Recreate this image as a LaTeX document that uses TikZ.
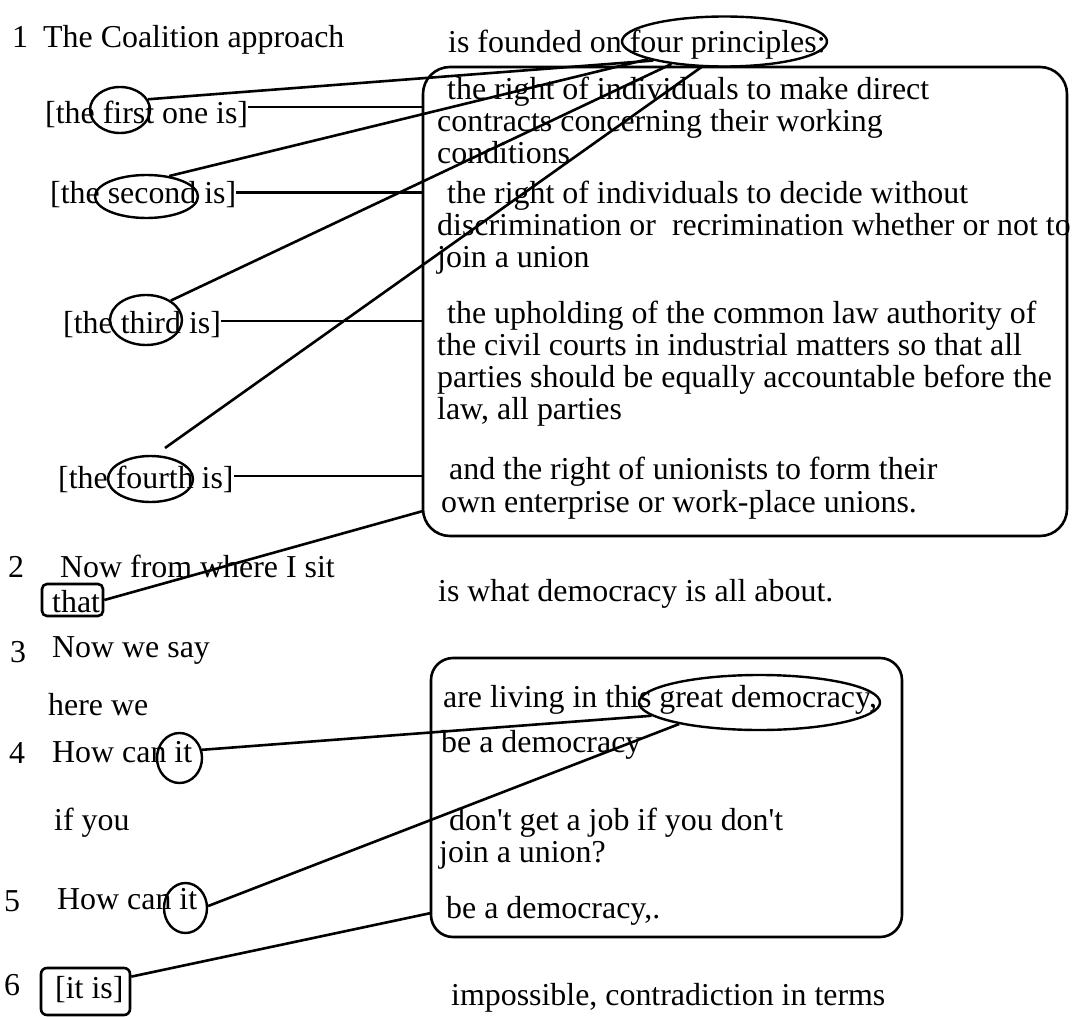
\documentclass[tikz,border=0pt]{standalone}
\usepackage{fontspec}
\setmainfont{Liberation Serif}
\usetikzlibrary{shapes.geometric}
\tikzset{
  txt/.style={anchor=base west, inner sep=0pt, font=\fontsize{31.9}{36}\selectfont},
  ell/.style={draw, ellipse, inner sep=0pt, line width=2.4pt},
  rbox/.style={draw, rectangle, inner sep=0pt, line width=2.6pt},
  conn/.style={line width=2.6pt},
}
\begin{document}
\begin{tikzpicture}[x=1pt,y=-1pt]
\useasboundingbox (0,0) rectangle (1080,1017);

% boxes
\node[rbox, rounded corners=27pt, minimum width=644pt, minimum height=469pt] (bigbox) at (745,301.5) {};
\node[rbox, rounded corners=22pt, minimum width=471pt, minimum height=279pt] (smallbox) at (666.5,797.5) {};
\node[rbox, rounded corners=5pt, minimum width=61pt, minimum height=32pt] (that) at (72.5,600) {};
\node[rbox, rounded corners=6pt, minimum width=89pt, minimum height=47pt] (itis) at (85.5,991.5) {};

% left column
\node[txt] (n1) at (12,47) {1};
\node[txt] (t1) at (43,47) {The Coalition approach};
\node[txt] (b1) at (45,123) {[the first one is]};
\node[txt] (b2) at (50,203) {[the second is]};
\node[txt] (b3) at (63,333) {[the third is]};
\node[txt] (b4) at (58,488) {[the fourth is]};
\node[txt] (n2) at (8,577) {2};
\node[txt] (t2) at (60,577) {Now from where I sit};
\node[txt] (thattxt) at (52,612) {that};
\node[txt] (n3) at (10,662) {3};
\node[txt] (t3) at (52,657) {Now we say};
\node[txt] (t3b) at (48,715) {here we};
\node[txt] (n4) at (9,763) {4};
\node[txt] (t4) at (52,762) {How can it};
\node[txt] (t4b) at (54,830) {if you};
\node[txt] (n5) at (4,911) {5};
\node[txt] (t5) at (57,909) {How can it};
\node[txt] (n6) at (4,995) {6};
\node[txt] (itistxt) at (55,998) {[it is]};

% right column
\node[txt] (t1b) at (448,52) {is founded on four principles:};
\node[txt] (p1a) at (447,99) {the right of individuals to make direct};
\node[txt] (p1b) at (437,131) {contracts concerning their working};
\node[txt] (p1c) at (437,163) {conditions};
\node[txt] (p2a) at (447,203) {the right of individuals to decide without};
\node[txt] (p2b) at (437,235) {discrimination or\ \ recrimination whether or not to};
\node[txt] (p2c) at (437,267) {join a union};
\node[txt] (p3a) at (447,323) {the upholding of the common law authority of};
\node[txt] (p3b) at (437,355) {the civil courts in industrial matters so that all};
\node[txt] (p3c) at (437,387) {parties should be equally accountable before the};
\node[txt] (p3d) at (437,419) {law, all parties};
\node[txt] (p4a) at (449,479) {and the right of unionists to form their};
\node[txt] (p4b) at (441,512) {own enterprise or work-place unions.};
\node[txt] (t2b) at (438,601) {is what democracy is all about.};
\node[txt] (q1) at (443,707) {are living in this great democracy,};
\node[txt] (q2) at (441,752) {be a democracy};
\node[txt] (q3) at (449,830) {don\textquotesingle t get a job if you don\textquotesingle t};
\node[txt] (q4) at (439,862) {join a union?};
\node[txt] (q5) at (446,918) {be a democracy,.};
\node[txt] (t6b) at (451,1005) {impossible, contradiction in terms};

% ellipses around words
\node[ell, minimum width=205pt, minimum height=50pt] (efour) at (724.5,41.5) {};
\node[ell, minimum width=60pt, minimum height=46pt] (e1) at (120,110) {};
\node[ell, minimum width=103pt, minimum height=43pt] (e2) at (146.5,196.5) {};
\node[ell, minimum width=72pt, minimum height=50pt] (e3) at (146,320) {};
\node[ell, minimum width=85pt, minimum height=46pt] (e4) at (150.5,479) {};
\node[ell, minimum width=45pt, minimum height=50pt] (it1) at (179.5,758) {};
\node[ell, minimum width=43pt, minimum height=50pt] (it2) at (185.5,908) {};
\node[ell, minimum width=241pt, minimum height=55pt] (great) at (759.5,702.5) {};

% free ends
\coordinate (f4) at (165,448);
\coordinate (bbthat) at (423,511);
\coordinate (sbitis) at (431,913);

% connectors to "four principles"
\draw[conn] (e1.21) -- (efour.195);
\draw[conn] (e2.42) -- (efour.193);
\draw[conn] (e3.38) -- (efour.203);
\draw[conn] (f4) -- (efour.228);

% horizontal links to the box
\draw[conn] ([yshift=16pt]b1.base east) -- ([yshift=16pt]b1.base east -| bigbox.west);
\draw[conn] ([yshift=10.5pt]b2.base east) -- ([yshift=10.5pt]b2.base east -| bigbox.west);
\draw[conn] ([yshift=12pt]b3.base east) -- ([yshift=12pt]b3.base east -| bigbox.west);
\draw[conn] ([yshift=12pt]b4.base east) -- ([yshift=12pt]b4.base east -| bigbox.west);

% lower connectors
\draw[conn] (that.east) -- (bbthat);
\draw[conn] (it1.20) -- (great.187);
\draw[conn] (it2.5) -- (great.195);
\draw[conn] (itis.18) -- (sbitis);
\end{tikzpicture}
\end{document}
